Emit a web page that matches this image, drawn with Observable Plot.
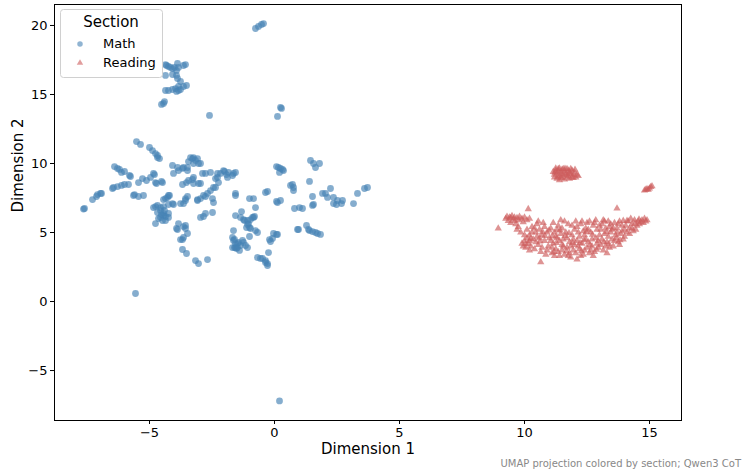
<!DOCTYPE html>
<html>
<head>
<meta charset="utf-8">
<script src="https://cdn.jsdelivr.net/npm/d3@7"></script>
<script src="https://cdn.jsdelivr.net/npm/@observablehq/plot@0.6"></script>
<style>
  html, body { margin: 0; padding: 0; background: #fff; }
  #chart { width: 747px; height: 476px; }
</style>
</head>
<body>
<div id="chart"></div>
<script>
// ---- Data ----
const sections = ["Math", "Reading"];
const sectionColors = ["#4682b4", "#cd5c5c"];
const xTicks = [-5, 0, 5, 10, 15];
const yTicks = [-5, 0, 5, 10, 15, 20];
const xLabel = "Dimension 1";
const yLabel = "Dimension 2";
const legendTitle = "Section";
const captionText = "UMAP projection colored by section; Qwen3 CoT";

const mathPoints = [
  [-0.76,19.78],[-0.64,19.93],[-0.44,20.14],[-0.52,20.07],
  [-4.32,17.10],[-4.24,17.03],[-4.16,16.96],[-4.08,16.88],[-4.0,16.96],[-3.92,16.74],[-3.84,16.96],[-3.64,17.10],[-3.56,17.17],[-3.88,17.25],[-4.36,17.17],[-4.36,16.38],[-4.08,16.45],[-3.92,16.38],
  [-4.36,15.29],[-4.24,15.29],[-4.08,15.36],[-3.96,15.43],[-3.92,15.22],[-3.84,15.29],[-3.76,15.36],[-3.64,15.58],[-3.52,15.65],[-3.84,15.58],[-3.76,15.94],[-3.88,16.16],
  [-4.52,14.28],[-4.44,14.35],[-4.4,14.49],
  [-2.6,13.48],[0.28,13.99],[0.24,14.06],[0.12,13.41],
  [-5.52,11.59],[-5.36,11.38],
  [-5.0,11.16],[-4.88,10.94],[-4.76,10.72],[-4.68,10.58],[-4.6,10.36],[-4.68,10.43],
  [-6.4,9.78],[-6.28,9.64],[-6.2,9.57],[-6.12,9.35],[-6.0,9.42],[-5.8,9.13],[-5.76,9.06],
  [-6.48,8.19],[-6.28,8.33],[-6.12,8.41],[-6.0,8.48],[-5.84,8.48],[-6.44,8.26],
  [-6.96,7.83],[-7.12,7.61],[-7.28,7.39],[-7.08,7.75],[-7.6,6.74],[-7.64,6.70],[-6.92,7.83],
  [-5.6,7.75],[-5.44,7.61],[-5.24,7.68],[-5.64,7.68],
  [-5.44,8.62],[-5.28,8.91],[-5.12,8.77],[-4.96,8.99],[-4.8,9.2],[-4.76,8.62],[-4.52,8.70],[-4.72,8.55],
  [-4.08,9.86],[-3.88,9.71],[-3.68,9.64],[-3.48,9.71],[-4.04,9.28],[-3.84,9.49],[-3.64,9.71],
  [-3.36,10.43],[-3.28,10.36],[-3.24,10.43],[-3.16,10.22],[-3.08,10.36],[-3.04,10.0],[-2.96,10.0],[-3.44,10.14],[-3.24,10.0],
  [-3.24,8.99],[-2.88,9.28],[-2.76,9.28],[-2.56,9.35],[-3.48,9.49],
  [-3.68,8.48],[-3.52,8.62],[-3.44,8.77],[-3.24,8.55],[-3.04,8.55],[-2.96,8.55],[-3.28,8.84],
  [-2.28,9.28],[-2.16,9.28],[-2.04,9.49],[-2.0,9.42],[-1.84,9.35],[-1.68,9.13],[-1.88,8.99],[-2.36,8.91],[-2.28,8.99],[-2.24,8.62],[-1.64,9.28],[-1.56,9.35],[-1.92,9.20],
  [-4.84,9.28],[-4.48,8.62],
  [-2.44,8.26],[-2.56,8.04],[-2.68,7.83],[-2.84,7.68],[-2.96,7.46],[-3.08,7.32],[-2.48,7.46],[-2.44,7.17],[-2.76,7.61],[-2.36,8.26],
  [-4.24,7.68],[-4.28,7.54],[-4.44,7.39],[-4.36,7.46],[-4.68,6.96],[-4.84,6.81],[-4.56,6.81],[-4.44,6.88],[-4.56,6.59],[-4.44,6.38],[-4.64,6.01],[-4.36,5.87],[-4.76,5.65],[-4.68,6.45],[-4.56,6.09],[-4.36,6.16],[-4.48,5.87],[-4.24,6.09],[-4.24,7.03],[-4.04,7.03],[-4.2,7.68],[-4.76,6.88],[-4.44,6.23],[-4.24,6.38],[-4.08,7.10],[-4.52,6.30],[-4.40,6.60],
  [-3.64,7.10],[-3.56,7.46],[-3.76,7.10],[-3.56,7.32],[-3.48,7.61],[-3.08,7.39],
  [-3.84,5.65],[-3.64,5.43],[-3.56,5.29],[-3.88,5.22],[-3.68,4.49],[-3.64,4.64],[-3.92,5.29],[-3.48,4.93],[-3.56,5.51],[-3.76,4.49],
  [-2.84,6.16],[-2.96,6.09],[-2.76,6.38],[-2.48,6.45],
  [-3.68,3.77],[-3.52,3.48],
  [-3.16,2.97],[-3.04,2.75],[-2.68,3.04],
  [-1.56,7.83],[-1.56,7.68],
  [-1.0,7.46],[-0.84,7.46],[-0.76,6.81],[-0.36,7.90],[-0.28,7.97],
  [-1.32,6.52],[-1.56,6.23],[-1.36,6.09],[-1.2,5.87],[-1.08,5.87],[-1.08,5.58],[-0.96,5.94],[-0.84,6.09],[-1.0,5.36],[-1.04,5.65],[-0.96,5.29],[-0.76,5.14],[-0.68,5.0],[-0.88,6.09],[-0.8,6.16],[-1.24,5.94],[-1.12,5.36],
  [-1.68,4.64],[-1.64,4.42],[-1.56,4.20],[-1.48,3.91],[-1.44,4.28],[-1.28,4.42],[-1.16,4.06],[-1.64,5.14],[-1.6,3.91],[-1.48,4.20],[-1.56,3.91],[-1.36,4.06],[-1.24,4.28],[-1.08,3.91],[-1.68,3.91],[-1.52,3.84],[-1.60,4.50],[-1.40,3.70],
  [-1.0,4.71],
  [-0.68,3.19],[-0.56,3.12],[-0.48,3.12],[-0.36,2.97],[-0.36,2.83],[-0.28,2.75],[-0.28,2.61],
  [-0.24,3.55],[-0.08,4.57],[-0.04,4.93],[-0.2,4.49],[-0.16,4.35],
  [0.12,7.17],[0.08,7.25],[0.24,7.32],
  [0.08,9.78],[0.16,9.71],[0.24,9.64],[0.32,9.57],[0.36,9.49],[0.2,9.35],
  [1.44,10.22],[1.56,10.0],[1.64,9.71],[1.8,10.0],
  [0.64,8.41],[0.76,8.26],[0.76,8.04],[0.72,8.48],
  [1.4,8.70],[1.52,7.61],
  [0.8,6.74],[1.0,6.81],[1.12,6.74],
  [1.52,6.96],[1.56,7.03],
  [1.92,7.83],[2.04,7.83],[2.12,7.54],[2.24,8.19],[2.36,7.54],[2.52,7.32],[2.36,7.10],[2.48,7.03],[2.72,7.32],[2.68,7.10],[3.16,7.10],[3.32,7.83],[3.6,8.19],[3.72,8.26],
  [1.28,5.51],[1.36,5.22],[1.52,5.07],[1.72,4.93],[1.84,4.86],[0.96,5.22],[0.92,5.22],[1.4,5.14],[1.64,5.0],
  [0.08,4.86],[0.12,4.86],
  [0.2,-7.2],
  [-5.56,0.58]
];

const readingPoints = [
  // upper cluster
  [11.15,9.4],[11.2,9.2],[11.25,9.5],[11.3,9.3],[11.35,9.6],[11.4,9.1],[11.45,9.4],[11.5,9.55],[11.55,9.2],[11.6,9.45],
  [11.65,9.3],[11.7,9.6],[11.75,9.1],[11.8,9.4],[11.85,9.25],[11.9,9.5],[11.95,9.15],[12.0,9.35],[12.05,9.0],[12.1,9.2],
  [11.3,8.9],[11.4,8.8],[11.5,8.95],[11.6,8.85],[11.7,9.0],[11.8,8.9],[11.2,9.0],[11.35,9.45],[11.55,9.6],[11.75,9.5],
  [11.65,9.15],[11.45,9.0],[11.9,9.0],[12.15,9.1],[11.25,9.65],[11.4,9.65],[11.85,9.6],[11.95,8.95],
  [11.22,9.35],[11.48,9.25],[11.62,9.62],[11.78,9.28],[12.02,9.55],[11.32,9.05],
  // right tip
  [14.8,8.05],[14.9,8.15],[15.0,8.2],[15.05,8.3],[15.1,8.35],[14.95,8.1],[14.85,8.1],
  // lone
  [10.15,6.7],[13.7,6.75],
  // left tip
  [9.25,6.0],[9.3,6.15],[9.4,6.1],[9.5,6.2],[9.55,5.95],[9.6,6.1],[9.35,5.85],[9.45,5.7],[9.7,6.05],[9.8,6.15],
  [9.9,6.0],[10.0,6.1],[10.1,5.9],[10.2,6.0],[9.65,5.6],[9.75,5.4],[9.85,5.0],[8.95,5.3],[9.7,5.2],
  [9.45,6.05],[9.62,5.85],[9.78,5.9],[9.95,5.75],
  // main band
  [9.9,4.2],[9.95,4.0],[10.0,4.4],[10.05,3.9],[10.1,4.6],[10.15,4.2],[10.2,4.8],[10.25,4.0],[10.3,5.0],[10.35,4.5],
  [10.4,5.3],[10.45,4.3],[10.5,5.6],[10.0,4.8],[10.2,3.7],[10.4,3.8],[10.5,4.7],[10.3,5.4],[10.1,5.2],[10.45,5.0],[10.2,4.4],
  [10.55,4.1],[10.6,5.2],[10.65,3.6],[10.7,4.8],[10.75,5.7],[10.8,4.4],[10.85,3.4],[10.9,5.0],[10.95,4.0],[10.6,4.6],
  [10.7,3.9],[10.8,5.4],[10.9,3.7],[11.0,4.6],[10.55,5.8],[10.65,2.85],
  [10.05,4.15],[10.25,4.55],[10.62,4.35],[10.82,4.75],[10.98,5.15],[10.72,5.05],
  [11.05,5.3],[11.1,3.5],[11.15,4.2],[11.2,5.0],[11.25,3.8],[11.3,4.6],[11.35,5.5],[11.4,3.3],[11.45,4.9],[11.5,4.1],
  [11.05,4.4],[11.15,5.7],[11.25,4.7],[11.35,3.6],[11.45,5.9],[11.2,3.3],[11.4,4.4],[11.1,3.9],[11.3,5.2],[11.5,3.7],[11.5,5.3],
  [11.12,4.75],[11.28,4.25],[11.42,5.15],[11.18,3.6],
  [11.55,4.5],[11.6,3.4],[11.65,5.0],[11.7,3.9],[11.75,5.6],[11.8,4.3],[11.85,3.2],[11.9,4.8],[11.95,3.7],[12.0,5.2],
  [11.6,5.8],[11.7,4.6],[11.8,3.5],[11.9,5.5],[12.0,4.1],[11.55,4.0],[11.75,3.3],[11.85,4.0],[11.95,4.5],[12.1,3.05],
  [11.62,4.75],[11.78,4.95],[11.92,4.25],[11.68,3.65],
  [12.05,3.5],[12.1,4.4],[12.15,5.0],[12.2,3.8],[12.25,5.6],[12.3,4.2],[12.35,3.4],[12.4,4.8],[12.45,5.3],[12.5,3.9],
  [12.05,5.8],[12.15,4.0],[12.25,3.3],[12.35,5.1],[12.45,4.5],[12.2,4.7],[12.4,3.7],[12.5,5.7],[12.3,5.8],[12.1,5.4],
  [12.22,4.25],[12.38,4.45],[12.28,3.65],[12.48,5.05],
  [12.55,4.3],[12.6,3.5],[12.65,5.0],[12.7,4.0],[12.75,5.5],[12.8,3.6],[12.85,4.6],[12.9,5.2],[12.95,3.9],[13.0,4.8],
  [12.6,5.8],[12.7,4.5],[12.8,5.7],[12.9,4.2],[13.0,5.5],[12.55,5.2],[12.75,3.3],[12.85,5.9],[12.65,3.7],[12.95,4.4],
  [12.72,4.85],[12.88,3.75],[12.62,4.1],
  [13.05,4.1],[13.1,5.6],[13.15,3.7],[13.2,4.9],[13.25,5.3],[13.3,4.3],[13.35,5.8],[13.4,3.9],[13.45,5.0],[13.5,4.5],
  [13.05,5.2],[13.15,5.9],[13.25,4.0],[13.35,4.7],[13.45,5.6],[13.1,4.5],[13.3,3.5],[13.4,5.4],[13.2,5.8],[13.5,5.2],
  [13.18,4.3],[13.38,4.15],[13.28,5.05],
  [13.55,4.0],[13.6,5.7],[13.65,4.8],[13.7,5.3],[13.75,4.3],[13.8,5.8],[13.85,4.9],[13.9,5.5],[13.95,4.5],[14.0,5.2],
  [13.6,4.4],[13.7,5.0],[13.8,4.1],[13.9,5.1],[14.0,4.7],[13.55,5.3],[13.75,5.6],[13.95,5.85],
  [13.68,4.6],[13.82,4.45],
  [14.05,5.5],[14.1,5.0],[14.15,5.8],[14.2,5.3],[14.3,5.6],[14.35,5.1],[14.4,5.9],[14.5,5.5],[14.55,5.8],[14.6,5.6],
  [14.7,5.9],[14.75,5.7],[14.8,6.0],[14.85,5.8],[14.2,4.9],[14.3,5.3],[14.45,5.2],[14.65,5.75],[14.1,5.85],[14.25,6.0],
  [14.42,5.65],[14.58,5.95],[14.9,5.9]
];

// ---- Build rows for the library ----
const rows = [
  ...mathPoints.map(([x, y]) => ({x, y, section: sections[0]})),
  ...readingPoints.map(([x, y]) => ({x, y, section: sections[1]}))
];

const FONT = "DejaVu Sans, sans-serif";

const chart = Plot.plot({
  width: 747,
  height: 476,
  marginLeft: 54,
  marginRight: 66,
  marginTop: 4,
  marginBottom: 56,
  style: {fontFamily: FONT, fontSize: "13px", color: "#000", background: "#fff"},
  x: {domain: [-8.8, 16.28], ticks: xTicks, label: null},
  y: {domain: [-8.62, 21.52], ticks: yTicks, label: null},
  color: {domain: sections, range: sectionColors},
  marks: [
    Plot.dot(rows.filter(d => d.section === sections[0]), {
      x: "x", y: "y", fill: "section", r: 3.4, fillOpacity: 0.66, stroke: null, symbol: "circle"
    }),
    Plot.dot(rows.filter(d => d.section === sections[1]), {
      x: "x", y: "y", fill: "section", r: 2.7, fillOpacity: 0.66, stroke: null, symbol: "triangle"
    }),
    Plot.axisX({ticks: xTicks, tickSize: 4, tickPadding: 3, fontSize: 13, label: null}),
    Plot.axisY({ticks: yTicks, tickSize: 4, tickPadding: 3, fontSize: 13, label: null}),
    Plot.frame({stroke: "#000", strokeWidth: 1}),
    Plot.text([xLabel], {frameAnchor: "bottom", text: d => d, dy: 29, fontSize: 15, lineAnchor: "middle"}),
    Plot.text([yLabel], {frameAnchor: "left", text: d => d, dx: -36, rotate: -90, fontSize: 15, lineAnchor: "middle"})
  ]
});

document.getElementById("chart").appendChild(chart);

// ---- Legend and caption overlaid in the SVG ----
const svg = d3.select(chart);
const lg = svg.append("g").attr("font-family", FONT);
lg.append("rect")
  .attr("x", 60.5).attr("y", 9.5).attr("width", 102).attr("height", 68)
  .attr("rx", 3).attr("fill", "#fff").attr("fill-opacity", 0.85)
  .attr("stroke", "#d0d0d0");
lg.append("text").attr("x", 111).attr("y", 22).attr("text-anchor", "middle")
  .attr("dominant-baseline", "central").attr("font-size", 15).text(legendTitle);
const entries = [
  {label: sections[0], color: sectionColors[0], sym: d3.symbolCircle, size: 24, y: 43},
  {label: sections[1], color: sectionColors[1], sym: d3.symbolTriangle, size: 18, y: 62}
];
for (const e of entries) {
  lg.append("path")
    .attr("d", d3.symbol(e.sym, e.size)())
    .attr("transform", `translate(80,${e.y + 1})`)
    .attr("fill", e.color).attr("fill-opacity", 0.6).attr("stroke", "none");
  lg.append("text").attr("x", 103).attr("y", e.y).attr("text-anchor", "start")
    .attr("dominant-baseline", "central").attr("font-size", 13).text(e.label);
}
svg.append("text").attr("x", 741).attr("y", 467).attr("text-anchor", "end")
  .attr("font-family", FONT).attr("font-size", 10).attr("fill", "#888").text(captionText);
</script>
</body>
</html>
